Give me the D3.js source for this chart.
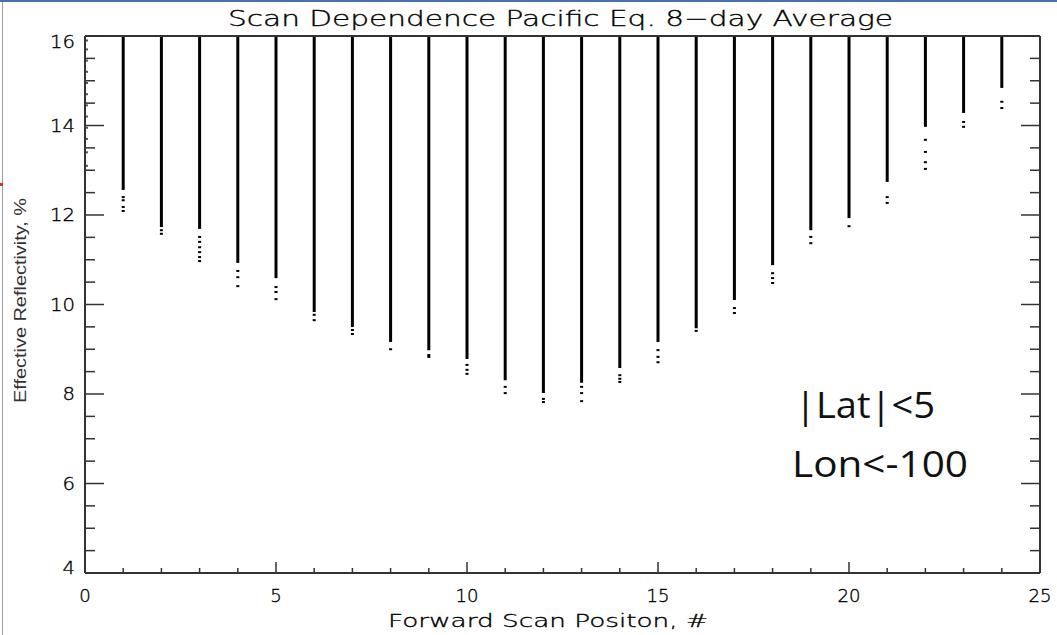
<!DOCTYPE html>
<html lang="en">
<head>
    <meta charset="UTF-8">
    <title>Scan Dependence Pacific Eq. 8-day Average</title>
    <script src="https://d3js.org/d3.v7.min.js"></script>
    <style>
        body{ margin: 0; background: #fff; }
        .hershey{ font-family: "DejaVu Sans"; font-weight: 200; fill: #000; stroke: #000; stroke-width: 0.35; }
        .note{ font-family: "Open Sans", Lato; fill: #111; }
    </style>
</head>
<body>
<div id="fig"></div>
<script>
    // scan positions and, per position, the bottom of the dense run of points (%)
    let scanPos  = [1, 2, 3, 4, 5, 6, 7, 8, 9, 10, 11, 12, 13, 14, 15, 16, 17, 18, 19, 20, 21, 22, 23, 24];
    let solidLow = [12.56, 11.73, 11.69, 10.93, 10.59, 9.83, 9.5, 9.16, 8.98, 8.78, 8.31, 8.02,
                    8.25, 8.58, 9.16, 9.47, 10.1, 10.88, 11.66, 11.93, 12.74, 13.97, 14.28, 14.84];
    let topVal = 16;
    // isolated low points below the dense run, per scan position
    let outliers = [
        [12.4, 12.33, 12.18, 12.09],
        [11.66, 11.58],
        [11.51, 11.4, 11.28, 11.17, 11.06, 10.97],
        [10.75, 10.61, 10.41],
        [10.39, 10.28, 10.12],
        [9.77, 9.65],
        [9.43, 9.34],
        [9.0],
        [8.87, 8.83],
        [8.65, 8.54, 8.45],
        [8.16, 8.02],
        [7.89, 7.82],
        [8.16, 8.02, 7.84],
        [8.42, 8.34, 8.27],
        [8.98, 8.83, 8.71],
        [9.41],
        [9.92, 9.81],
        [10.7, 10.59, 10.48],
        [11.51, 11.37],
        [11.75],
        [12.4, 12.27],
        [13.68, 13.41, 13.18, 13.03],
        [14.08, 13.97],
        [14.53, 14.39]
    ];
    // sparse points of scan position 0, along the left axis
    let pos0 = [15.9, 15.7, 15.45, 15.2, 14.95, 14.7, 14.45, 14.2, 13.95, 13.7, 13.4, 13.1];

    let xTicks = [0, 5, 10, 15, 20, 25];
    let yTicks = [4, 6, 8, 10, 12, 14, 16];
    let title = "Scan Dependence Pacific Eq. 8\u2212day Average";
    let xTitle = "Forward Scan Positon, #";
    let yTitle = "Effective Reflectivity, %";
    let notes = ["|Lat|<5", "Lon<-100"];

    let W = 1057, H = 635;
    let svg = d3.select("#fig").append("svg")
        .attr("width", W).attr("height", H);

    let x = d3.scaleLinear().domain([0, 25]).range([85, 1040]);
    let y = d3.scaleLinear().domain([4, 16]).range([573, 36]);

    // slide frame bits
    svg.append("line").attr("x1", 0).attr("x2", W).attr("y1", 1).attr("y2", 1)
        .attr("stroke", "#4a6fae").attr("stroke-width", 2);
    svg.append("line").attr("x1", 2.5).attr("x2", 2.5).attr("y1", 2).attr("y2", H)
        .attr("stroke", "#a0a0a0").attr("stroke-width", 1);
    svg.append("rect").attr("x", 0).attr("y", 183).attr("width", 3).attr("height", 3).attr("fill", "#e03030");

    // columns of points
    let cols = svg.append("g");
    scanPos.forEach(function (p, i) {
        cols.append("line")
            .attr("x1", x(p)).attr("x2", x(p))
            .attr("y1", y(topVal)).attr("y2", y(solidLow[i]))
            .attr("stroke", "#000").attr("stroke-width", 3);
        outliers[i].forEach(function (v) {
            cols.append("rect")
                .attr("x", x(p) - 1.5).attr("y", y(v) - 1)
                .attr("width", 3).attr("height", 2)
                .attr("fill", "#000");
        });
    });
    pos0.forEach(function (v) {
        cols.append("rect")
            .attr("x", x(0) + 1).attr("y", y(v) - 1)
            .attr("width", 2).attr("height", 2)
            .attr("fill", "#555");
    });

    // axes
    let axisCol = "#333";
    let ax = svg.append("g").attr("stroke", axisCol).attr("stroke-width", 2);
    ax.append("line").attr("x1", x(0)).attr("x2", x(25)).attr("y1", y(4)).attr("y2", y(4));
    ax.append("line").attr("x1", x(0)).attr("x2", x(25)).attr("y1", y(16)).attr("y2", y(16));
    ax.append("line").attr("x1", x(0)).attr("x2", x(0)).attr("y1", y(4)).attr("y2", y(16));
    ax.append("line").attr("x1", x(25)).attr("x2", x(25)).attr("y1", y(4)).attr("y2", y(16));

    let tk = svg.append("g").attr("stroke", axisCol).attr("stroke-width", 1.5);
    d3.range(0, 26, 1).forEach(function (v) {
        let len = (v % 5 === 0) ? 11 : 5;
        tk.append("line").attr("x1", x(v)).attr("x2", x(v))
            .attr("y1", y(4)).attr("y2", y(4) - len);
    });
    d3.range(4, 16.01, 0.5).forEach(function (v) {
        let len = (v % 2 === 0) ? 19 : 10;
        tk.append("line").attr("x1", x(0)).attr("x2", x(0) + len)
            .attr("y1", y(v)).attr("y2", y(v));
        tk.append("line").attr("x1", x(25)).attr("x2", x(25) - len)
            .attr("y1", y(v)).attr("y2", y(v));
    });

    // tick labels
    svg.append("g").selectAll("text").data(xTicks).join("text")
        .attr("class", "hershey")
        .attr("x", d => x(d)).attr("y", 602)
        .attr("text-anchor", "middle")
        .attr("font-size", 17)
        .attr("textLength", d => String(d).length * 11.5)
        .attr("lengthAdjust", "spacingAndGlyphs")
        .text(d => d);
    svg.append("g").selectAll("text").data(yTicks).join("text")
        .attr("class", "hershey")
        .attr("x", 75)
        .attr("y", function (d) {
            let off = 6;
            if (d === 16) off = 12;
            if (d === 4) off = 1;
            return y(d) + off;
        })
        .attr("text-anchor", "end")
        .attr("font-size", 17)
        .attr("textLength", d => String(d).length * 12.5)
        .attr("lengthAdjust", "spacingAndGlyphs")
        .text(d => d);

    // titles
    svg.append("text").attr("class", "hershey")
        .attr("x", 228).attr("y", 26)
        .attr("font-size", 22)
        .attr("textLength", 665).attr("lengthAdjust", "spacingAndGlyphs")
        .text(title);
    svg.append("text").attr("class", "hershey")
        .attr("x", 388).attr("y", 627)
        .attr("font-size", 18)
        .attr("textLength", 320).attr("lengthAdjust", "spacingAndGlyphs")
        .text(xTitle);
    svg.append("text")
        .attr("transform", "translate(26,403) rotate(-90)")
        .attr("font-family", "Liberation Sans, Arial")
        .attr("font-size", 17)
        .attr("fill", "#333")
        .attr("textLength", 205).attr("lengthAdjust", "spacingAndGlyphs")
        .text(yTitle);

    // annotation
    svg.append("text").attr("class", "note")
        .attr("x", 795).attr("y", 418).attr("font-size", 36)
        .attr("textLength", 140).attr("lengthAdjust", "spacingAndGlyphs")
        .text(notes[0]);
    svg.append("text").attr("class", "note")
        .attr("x", 792).attr("y", 477).attr("font-size", 36)
        .attr("textLength", 176).attr("lengthAdjust", "spacingAndGlyphs")
        .text(notes[1]);
</script>
</body>
</html>
